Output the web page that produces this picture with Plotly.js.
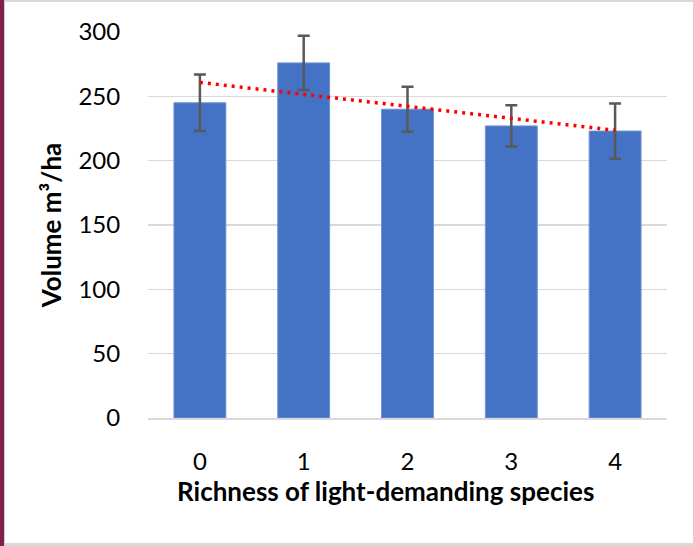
<!DOCTYPE html>
<html>
<head>
<meta charset="utf-8">
<script src="https://cdn.plot.ly/plotly-3.0.1.min.js"></script>
<style>
  html, body { margin: 0; padding: 0; background: #fff; }
  #wrap { position: relative; width: 693px; height: 546px; overflow: hidden; }
  #chart { position: absolute; left: 0; top: 0; width: 693px; height: 546px; }
  .edge { position: absolute; pointer-events: none; }
</style>
</head>
<body>
<div id="wrap">
  <div id="chart"></div>
  <div class="edge" style="left:0;top:0;width:693px;height:2px;background:#d9d9d9;"></div>
  <div class="edge" style="left:0;top:543px;width:693px;height:3px;background:#d9d9d9;"></div>
  <div class="edge" style="left:0;top:0;width:4px;height:546px;background:#7f2249;"></div>
  <div class="edge" style="left:4px;top:0;width:1px;height:546px;background:#d0d0d0;"></div>
</div>
<script>
// Data
const categories = ["0", "1", "2", "3", "4"];
const volume = [245, 276, 240, 227, 223];
const volumeErr = [22, 21, 17.5, 16, 21.5];
const yTicks = [0, 50, 100, 150, 200, 250, 300];
const xTitle = "Richness of light-demanding species";
const yTitle = "Volume m³/ha";

// Linear trendline (least squares over category index), as in the source chart
const idx = categories.map((c, i) => i);
const n = idx.length;
const mx = idx.reduce((a, b) => a + b, 0) / n;
const my = volume.reduce((a, b) => a + b, 0) / n;
let sxy = 0, sxx = 0;
idx.forEach((x, i) => { sxy += (x - mx) * (volume[i] - my); sxx += (x - mx) * (x - mx); });
const slope = sxy / sxx;
const intercept = my - slope * mx;
const trendX = [categories[0], categories[n - 1]];
const trendY = [intercept + slope * idx[0], intercept + slope * idx[n - 1]];

const FONT = "Lato, 'Open Sans', sans-serif";

const traces = [
  {
    type: "bar",
    x: categories,
    y: volume,
    marker: { color: "#4472c4", line: { color: "#6f93d6", width: 1 } },
    error_y: { type: "data", array: volumeErr, visible: true, color: "#595959", thickness: 2.5, width: 6 },
    hoverinfo: "x+y"
  },
  {
    type: "scatter",
    mode: "lines",
    x: trendX,
    y: trendY,
    line: { color: "#ff0000", width: 3.5, dash: "3px,5px" },
    hoverinfo: "skip"
  }
];

const layout = {
  width: 693,
  height: 546,
  margin: { l: 148, r: 26, t: 32, b: 128 },
  paper_bgcolor: "#ffffff",
  plot_bgcolor: "#ffffff",
  showlegend: false,
  bargap: 0.5,
  font: { family: FONT, color: "#000000", size: 24 },
  xaxis: {
    type: "category",
    range: [-0.5, 4.5],
    showgrid: false,
    zeroline: false,
    showline: true,
    linecolor: "#d9d9d9",
    linewidth: 1.5,
    ticks: "outside",
    ticklen: 22,
    tickcolor: "rgba(0,0,0,0)",
    tickfont: { family: FONT, size: 24, color: "#000000" },
    fixedrange: true
  },
  yaxis: {
    range: [0, 300],
    tickvals: yTicks,
    ticktext: yTicks.map(String),
    showgrid: true,
    gridcolor: "#d9d9d9",
    gridwidth: 1.3,
    zeroline: false,
    showline: false,
    ticks: "outside",
    ticklen: 22,
    tickcolor: "rgba(0,0,0,0)",
    tickfont: { family: FONT, size: 24, color: "#000000" },
    title: { text: "<b>" + yTitle + "</b>", font: { family: FONT, size: 26, color: "#000000" }, standoff: 9 },
    automargin: false,
    fixedrange: true
  },
  annotations: [
    {
      text: "<b>" + xTitle + "</b>",
      xref: "paper", yref: "paper",
      x: (385.5 - 148) / 519, y: 0,
      xanchor: "center", yanchor: "middle",
      yshift: -(491 - 418),
      showarrow: false,
      font: { family: FONT, size: 26, color: "#000000" }
    }
  ]
};

Plotly.newPlot("chart", traces, layout, { displayModeBar: false, staticPlot: true });
</script>
</body>
</html>
